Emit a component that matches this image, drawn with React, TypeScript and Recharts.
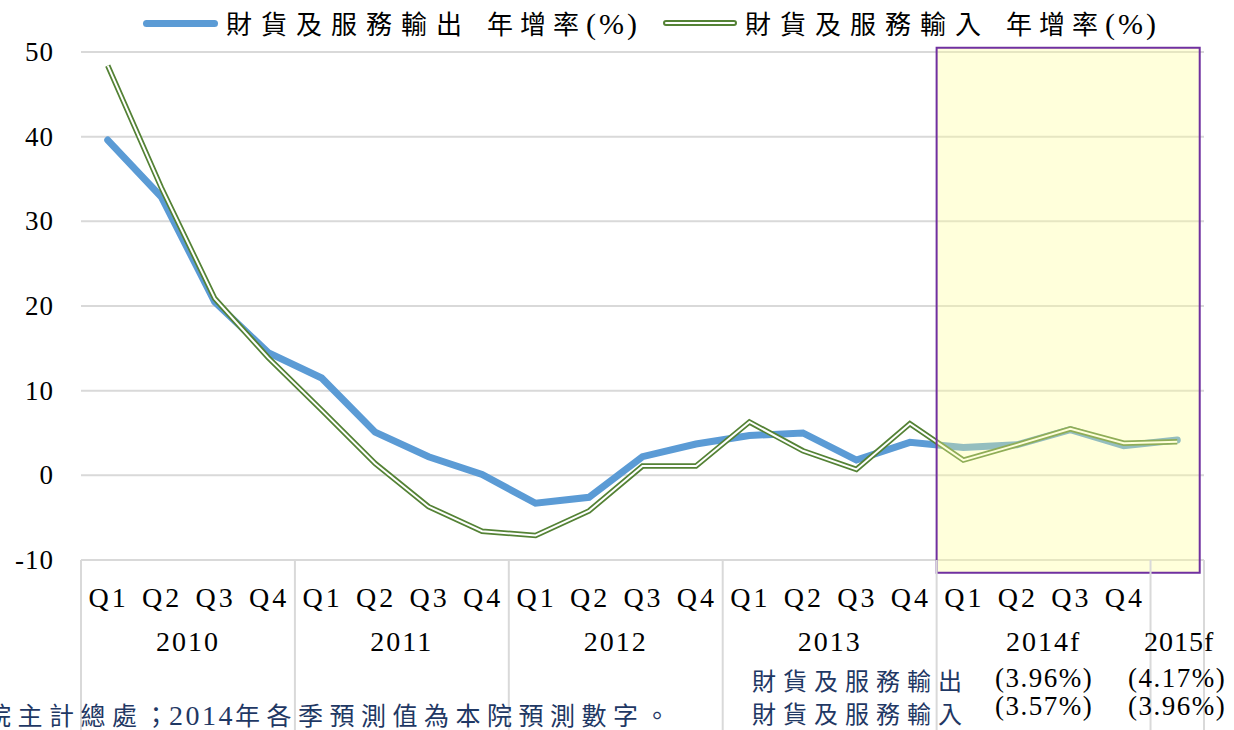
import { LineChart, Line, XAxis, YAxis, CartesianGrid, ReferenceArea } from "recharts";

// quarters 2010Q1 .. 2014Q4, plus the 2015 annual forecast
const periods = [
	"2010Q1", "2010Q2", "2010Q3", "2010Q4",
	"2011Q1", "2011Q2", "2011Q3", "2011Q4",
	"2012Q1", "2012Q2", "2012Q3", "2012Q4",
	"2013Q1", "2013Q2", "2013Q3", "2013Q4",
	"2014Q1", "2014Q2", "2014Q3", "2014Q4",
	"2015f",
];
const quarterLabels = ["Q1", "Q2", "Q3", "Q4"];
const yearLabels = ["2010", "2011", "2012", "2013", "2014f", "2015f"];

const exportGrowth = [
	39.6, 32.9, 20.5, 14.5,
	11.5, 5.1, 2.2, 0.1,
	-3.3, -2.6, 2.2, 3.7,
	4.7, 5.0, 1.8, 3.9,
	3.3, 3.6, 5.4, 3.5,
	4.17,
];
const importGrowth = [
	48.4, 34.0, 20.9, 13.9,
	7.7, 1.4, -3.7, -6.6,
	-7.1, -4.2, 1.1, 1.1,
	6.3, 2.9, 0.7, 6.1,
	1.8, 3.6, 5.5, 3.8,
	3.96,
];
const yTicks = [-10, 0, 10, 20, 30, 40, 50];

const seriesNames = ["財貨及服務輸出", "財貨及服務輸入"];
const legendSuffix = ["年增率", "(%)"];
const forecast2014 = ["(3.96%)", "(3.57%)"];
const forecast2015 = ["(4.17%)", "(3.96%)"];
const footnote = ["院主計總處；", "2014", "年各季預測值為本院預測數字。"];

const data = periods.map((p, i) => ({
	period: p,
	x: i + 0.5,
	exports: exportGrowth[i],
	imports: importGrowth[i],
}));

// x positions: category centres, year boundaries and year-group centres
const boundaries = [0, 4, 8, 12, 16, 20, 21];
const groupCentres = [2, 6, 10, 14, 18];
const xTicks = [...boundaries, ...groupCentres, ...data.map((d) => d.x)].sort((a, b) => a - b);

const SERIF = "'Liberation Serif', 'Noto Sans CJK TC', serif";
const CJK = "'Noto Sans CJK TC', sans-serif";
const NAVY = "#1f3864";

const XTick = ({ x, y, payload }: any) => {
	const v = payload.value;
	if (boundaries.includes(v)) {
		return <line x1={x} x2={x} y1={y} y2={y + 200} stroke="#d9d9d9" strokeWidth={2} />;
	}
	if (groupCentres.includes(v)) {
		return (
			<text x={x} y={y + 91} textAnchor="middle" fontSize={28} fontFamily={SERIF} letterSpacing={2} fill="#000">
				{yearLabels[groupCentres.indexOf(v)]}
			</text>
		);
	}
	const idx = Math.floor(v);
	if (idx === 20) {
		return (
			<text x={x + 2} y={y + 91} textAnchor="middle" fontSize={28} fontFamily={SERIF} letterSpacing={1} fill="#000">
				{yearLabels[5]}
			</text>
		);
	}
	return (
		<text x={x + 1} y={y + 47} textAnchor="middle" fontSize={28} fontFamily={SERIF} letterSpacing={3} fill="#000">
			{quarterLabels[idx % 4]}
		</text>
	);
};

const YTick = ({ x, y, payload }: any) => (
	<text x={x - 27} y={y + 9} textAnchor="end" fontSize={27} fontFamily={SERIF} letterSpacing={1} fill="#000">
		{payload.value}
	</text>
);

const LegendText = ({ left, name }: { left: number; name: string }) => (
	<div style={{ position: "absolute", left, top: 4, fontFamily: SERIF, fontSize: 26, color: "#000", whiteSpace: "nowrap" }}>
		<span style={{ letterSpacing: 9 }}>{name}</span>
		<span style={{ letterSpacing: 7, marginLeft: 16 }}>{legendSuffix[0]}</span>
		<span style={{ letterSpacing: 3, fontSize: 30 }}>{legendSuffix[1]}</span>
	</div>
);

const GrowthChart = () => {
	return (
		<div style={{ position: "absolute", left: 0, top: 0, width: 1234, height: 730, overflow: "hidden", background: "#fff" }}>
			<LineChart
				width={1234}
				height={730}
				data={data}
				margin={{ top: 52, right: 30, bottom: 0, left: 0 }}
			>
				<CartesianGrid vertical={false} stroke="#d9d9d9" strokeWidth={2} />
				<XAxis
					dataKey="x"
					type="number"
					domain={[0, 21]}
					ticks={xTicks}
					interval={0}
					axisLine={false}
					tickLine={false}
					tickSize={0}
					tickMargin={0}
					height={170}
					tick={<XTick />}
				/>
				<YAxis
					domain={[-10, 50]}
					ticks={yTicks}
					axisLine={false}
					tickLine={false}
					tickSize={0}
					tickMargin={0}
					width={81}
					tick={<YTick />}
				/>
				<Line
					dataKey="exports"
					stroke="#5b9bd5"
					strokeWidth={7}
					strokeLinecap="round"
					dot={false}
					isAnimationActive={false}
				/>
				<Line
					dataKey="imports"
					stroke="#548235"
					strokeWidth={5.5}
					dot={false}
					isAnimationActive={false}
				/>
				<Line
					dataKey="imports"
					stroke="#ffffff"
					strokeWidth={2}
					dot={false}
					isAnimationActive={false}
				/>
				<ReferenceArea
					x1={16}
					x2={20.92}
					y1={-11.5}
					y2={50.5}
					ifOverflow="visible"
					fill="#ffff99"
					fillOpacity={0.35}
					stroke="#7030a0"
					strokeWidth={2}
					zIndex={1000}
				/>
			</LineChart>

			{/* legend */}
			<div style={{ position: "absolute", left: 143, top: 20, width: 75, height: 7, borderRadius: 4, background: "#5b9bd5" }} />
			<LegendText left={226} name={seriesNames[0]} />
			<div style={{ position: "absolute", left: 663, top: 20, width: 70, height: 2, border: "2px solid #548235", borderRadius: 3, background: "#fff" }} />
			<LegendText left={745} name={seriesNames[1]} />

			{/* annual forecast notes */}
			{seriesNames.map((name, i) => (
				<div key={name} style={{ position: "absolute", left: 752, top: 662 + i * 33, whiteSpace: "nowrap" }}>
					<span style={{ fontFamily: CJK, fontSize: 24, letterSpacing: 7, color: NAVY }}>{name}</span>
				</div>
			))}
			{seriesNames.map((name, i) => (
				<div key={name + "v"} style={{ position: "absolute", left: 995, top: 663 + i * 28, whiteSpace: "nowrap", fontFamily: SERIF, fontSize: 27, letterSpacing: 1.5, color: "#000" }}>
					{forecast2014[i]}
					<span style={{ position: "absolute", left: 133 }}>{forecast2015[i]}</span>
				</div>
			))}

			{/* source note, cut off at the left edge */}
			<div style={{ position: "absolute", left: -14, top: 696, whiteSpace: "nowrap", fontFamily: SERIF, fontSize: 25, color: NAVY }}>
				<span style={{ letterSpacing: 6.5 }}>{footnote[0]}</span>
				<span style={{ letterSpacing: 2.5, fontSize: 28, marginLeft: -6 }}>{footnote[1]}</span>
				<span style={{ letterSpacing: 6.5 }}>{footnote[2]}</span>
			</div>
		</div>
	);
};

export default function App() {
	return <GrowthChart />;
}
